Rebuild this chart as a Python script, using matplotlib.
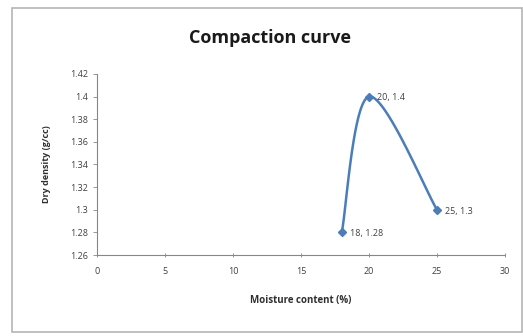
import matplotlib
matplotlib.use('Agg')
import matplotlib.pyplot as plt
import matplotlib.patches as mpatches
import numpy as np

moisture = [18, 20, 25]
density = [1.28, 1.4, 1.3]
point_labels = ['18, 1.28', '20, 1.4', '25, 1.3']

x_ticks = [0, 5, 10, 15, 20, 25, 30]
y_ticks = [1.26, 1.28, 1.3, 1.32, 1.34, 1.36, 1.38, 1.4, 1.42]

blue = '#4A7EBB'
grey = '#868686'

plt.rcParams['font.family'] = ['Open Sans', 'DejaVu Sans']

fig = plt.figure(figsize=(5.23, 3.36), dpi=100)
ax = fig.add_axes([0.1855, 0.241, 0.780, 0.539])

# chart frame like excel
fig.patches.append(mpatches.Rectangle((12 / 523, 4 / 336), 510 / 523, 324 / 336,
                                      transform=fig.transFigure, fill=False,
                                      edgecolor='#b5b5b5', linewidth=1.2))

ax.set_xlim(0, 30)
ax.set_ylim(1.26, 1.42)


def smooth(xs, ys, ax, n=60):
    # excel-ish smoothed line: catmull-rom in screen space
    pts = ax.transData.transform(np.column_stack([xs, ys]))
    p = np.vstack([pts[0], pts, pts[-1]])
    out = []
    for i in range(1, len(p) - 2):
        p0, p1, p2, p3 = p[i - 1], p[i], p[i + 1], p[i + 2]
        c1 = p1 + (p2 - p0) / 6
        c2 = p2 - (p3 - p1) / 6
        t = np.linspace(0, 1, n)[:, None]
        seg = ((1 - t) ** 3) * p1 + 3 * ((1 - t) ** 2) * t * c1 + 3 * (1 - t) * t ** 2 * c2 + t ** 3 * p2
        out.append(seg)
    out = np.vstack(out)
    return ax.transData.inverted().transform(out)


curve = smooth(moisture, density, ax)
ax.plot(curve[:, 0], curve[:, 1], color=blue, linewidth=1.8)
ax.plot(moisture, density, linestyle='none', marker='D', markersize=4.5, color=blue)

for xv, yv, lab in zip(moisture, density, point_labels):
    ax.annotate(lab, (xv, yv), xytext=(6, -1), textcoords='offset points',
                fontsize=6.5, color='#404040', va='center')

ax.set_xticks(x_ticks)
ax.set_yticks(y_ticks)
ax.set_yticklabels([f'{v:g}' for v in y_ticks])
ax.tick_params(axis='both', labelsize=6.5, colors=grey, labelcolor='#404040', length=3, width=0.6)
ax.tick_params(axis='x', direction='inout', pad=7)

for s in ['top', 'right']:
    ax.spines[s].set_visible(False)
for s in ['left', 'bottom']:
    ax.spines[s].set_color(grey)
    ax.spines[s].set_linewidth(0.8)

fig.text(270 / 523, 1 - 38 / 336, 'Compaction curve', fontsize=13, fontweight='bold',
         color='#1a1a1a', ha='center', va='center')
ax.set_xlabel('Moisture content (%)', fontsize=7, fontweight='bold', color='#303030', labelpad=14)
ax.set_ylabel('Dry density (g/cc)', fontsize=6.5, fontweight='bold', color='#303030', labelpad=14)

fig.savefig('out.png', dpi=100)
